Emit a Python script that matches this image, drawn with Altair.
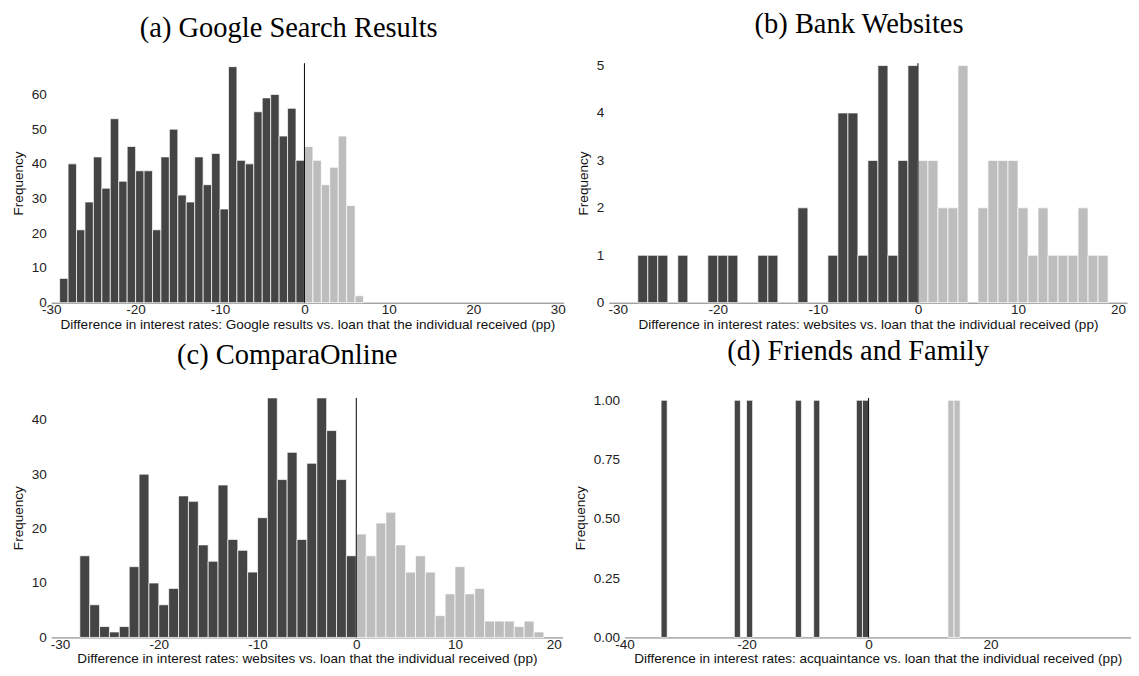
import altair as alt
import pandas as pd

# ---------------- data (bin left edges, bin width = 1 pp) ----------------
a_left = [-29, -28, -27, -26, -25, -24, -23, -22, -21, -20, -19, -18, -17, -16, -15,
          -14, -13, -12, -11, -10, -9, -8, -7, -6, -5, -4, -3, -2, -1,
          0, 1, 2, 3, 4, 5, 6]
a_count = [7, 40, 21, 29, 42, 33, 53, 35, 45, 38, 38, 21, 42, 50, 31,
           29, 42, 34, 43, 27, 68, 41, 40, 55, 59, 60, 48, 56, 41,
           45, 41, 34, 39, 48, 28, 2]

b_left = [-28, -27, -26, -24, -21, -20, -19, -16, -15, -12, -9, -8, -7, -6, -5, -4, -3, -2, -1,
          0, 1, 2, 3, 4, 6, 7, 8, 9, 10, 11, 12, 13, 14, 15, 16, 17, 18]
b_count = [1, 1, 1, 1, 1, 1, 1, 1, 1, 2, 1, 4, 4, 1, 3, 5, 1, 3, 5,
           3, 3, 2, 2, 5, 2, 3, 3, 3, 2, 1, 2, 1, 1, 1, 2, 1, 1]

c_left = [-28, -27, -26, -25, -24, -23, -22, -21, -20, -19, -18, -17, -16, -15, -14,
          -13, -12, -11, -10, -9, -8, -7, -6, -5, -4, -3, -2, -1,
          0, 1, 2, 3, 4, 5, 6, 7, 8, 9, 10, 11, 12, 13, 14, 15, 16, 17, 18]
c_count = [15, 6, 2, 1, 2, 13, 30, 10, 6, 9, 26, 25, 17, 14, 28,
           18, 16, 12, 22, 44, 29, 34, 18, 32, 44, 38, 29, 15,
           19, 15, 21, 23, 17, 12, 15, 12, 4, 8, 13, 8, 9, 3, 3, 3, 2, 3, 1]

d_left = [-34, -22, -20, -12, -9, -2, -1, 13, 14]
d_count = [1, 1, 1, 1, 1, 1, 1, 1, 1]

titles = ["(a) Google Search Results", "(b) Bank Websites",
          "(c) ComparaOnline", "(d) Friends and Family"]
xtitles = ["Difference in interest rates: Google results vs. loan that the individual received (pp)",
           "Difference in interest rates: websites vs. loan that the individual received (pp)",
           "Difference in interest rates: websites vs. loan that the individual received (pp)",
           "Difference in interest rates: acquaintance vs. loan that the individual received (pp)"]

DARK = "#444444"
LIGHT = "#bdbdbd"
SANS = "Liberation Sans"
SERIF = "Liberation Serif"
FS = 13.8


def panel(left, count, title, xtitle, xdom, xticks, ydom, yticks, yfmt, w, h, tdx, toff):
    df = pd.DataFrame({"lo": left, "n": count})
    df["hi"] = df["lo"] + 1
    df["base"] = 0
    df["side"] = ["neg" if v < 0 else "pos" for v in df["lo"]]
    bars = alt.Chart(df).mark_bar(stroke="white", strokeWidth=0.8, strokeOpacity=0.9).encode(
        x=alt.X("lo:Q", scale=alt.Scale(domain=xdom, nice=False, zero=False),
                axis=alt.Axis(values=xticks, title=xtitle,
                              labelExpr="'' + datum.value")),
        x2="hi:Q",
        y=alt.Y("n:Q", scale=alt.Scale(domain=ydom, nice=False),
                axis=alt.Axis(values=yticks, title="Frequency", format=yfmt)),
        y2="base:Q",
        color=alt.Color("side:N", scale=alt.Scale(domain=["neg", "pos"], range=[DARK, LIGHT]),
                        legend=None),
    )
    vline = alt.Chart(pd.DataFrame({"z": [0]})).mark_rule(color="black", strokeWidth=1).encode(
        x=alt.X("z:Q")
    )
    return alt.layer(bars, vline).properties(
        width=w, height=h,
        title=alt.TitleParams(title, font=SERIF, fontSize=29, fontWeight="normal",
                              color="black", offset=toff, frame="group", dx=tdx),
    )


pa = panel(a_left, a_count, titles[0], xtitles[0], [-30, 30.7], [-30, -20, -10, 0, 10, 20, 30],
           [0, 69], [0, 10, 20, 30, 40, 50, 60], "d", 522, 244, -19, 20)
pb = panel(b_left, b_count, titles[1], xtitles[1], [-30.9, 20.9], [-30, -20, -10, 0, 10, 20],
           [0, 5.05], [0, 1, 2, 3, 4, 5], "d", 528, 244, -9, 20)
pc = panel(c_left, c_count, titles[2], xtitles[2], [-30.9, 20.9], [-30, -20, -10, 0, 10, 20],
           [0, 44], [0, 10, 20, 30, 40], "d", 521, 244, -20, 28)
pd_ = panel(d_left, d_count, titles[3], xtitles[3], [-40, 43], [-40, -20, 0, 20],
            [0, 1.01], [0, 0.25, 0.5, 0.75, 1.0], ".2f", 516, 244, -20, 28)

chart = alt.vconcat(
    alt.hconcat(pa, pb, spacing=11),
    alt.hconcat(pc, pd_, spacing=11),
    spacing=6,
).properties(padding={"left": 3, "top": -4, "right": 0, "bottom": 0}).configure_view(
    stroke=None
).configure_axis(
    grid=False, ticks=False, labelFont=SANS, titleFont=SANS, labelFontSize=FS,
    titleFontSize=FS, titleFontWeight="normal", labelColor="#222222", titleColor="#111111",
).configure_axisX(
    domainColor="#777777", domainWidth=1, labelPadding=0, titlePadding=1, labelFlush=False,
).configure_axisY(
    domain=False, labelPadding=5, titlePadding=6,
)

chart.save("out.html", embed_options={"renderer": "svg", "actions": False})
